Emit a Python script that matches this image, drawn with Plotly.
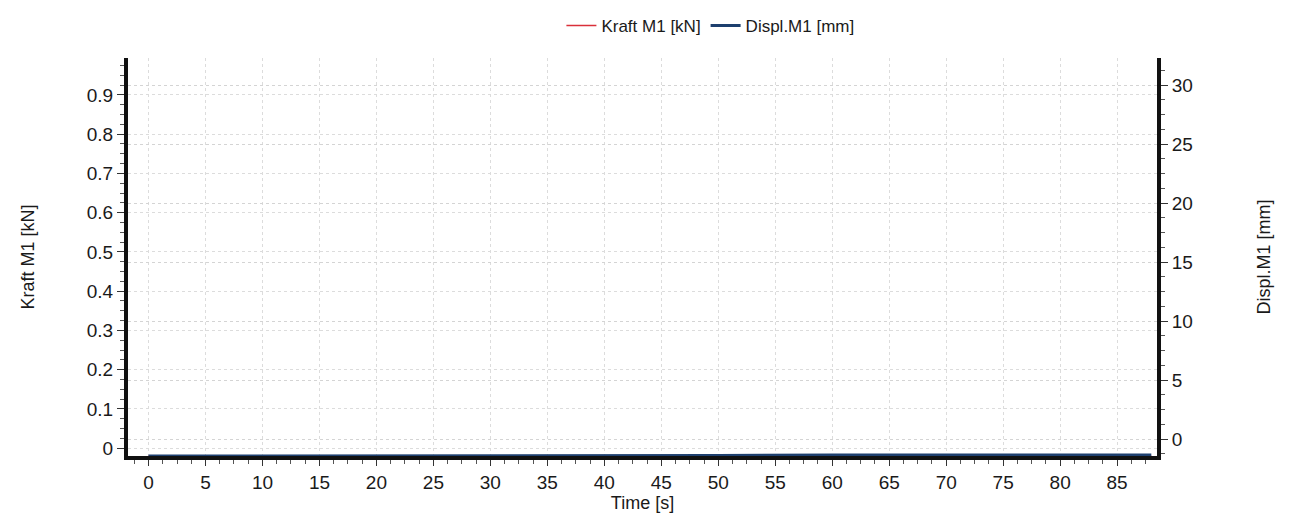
import plotly.graph_objects as go

time_s = [0, 10, 20, 30, 40, 50, 60, 70, 80, 88]
kraft_kn = [-0.02, -0.02, -0.02, -0.02, -0.02, -0.02, -0.02, -0.02, -0.02, -0.02]
displ_mm = [-1.45, -1.45, -1.45, -1.4, -1.4, -1.4, -1.35, -1.35, -1.35, -1.35]

x_ticks = list(range(0, 90, 5))
left_ticks = [0, 0.1, 0.2, 0.3, 0.4, 0.5, 0.6, 0.7, 0.8, 0.9]
left_labels = ["0", "0.1", "0.2", "0.3", "0.4", "0.5", "0.6", "0.7", "0.8", "0.9"]
right_ticks = [0, 5, 10, 15, 20, 25, 30]

font = "Liberation Sans, Arial, sans-serif"

fig = go.Figure()
fig.add_trace(go.Scatter(x=time_s, y=kraft_kn, mode="lines", name="Kraft M1 [kN]",
                         line=dict(color="#d9303a", width=1.5), yaxis="y"))
fig.add_trace(go.Scatter(x=time_s, y=displ_mm, mode="lines", name="Displ.M1 [mm]",
                         line=dict(color="#1d3f6e", width=3), yaxis="y2"))

fig.update_layout(
    width=1289, height=514,
    paper_bgcolor="white", plot_bgcolor="white",
    margin=dict(l=120, r=140, t=50, b=66),
    font=dict(family=font, size=19, color="#1a1a1a"),
    showlegend=True,
    legend=dict(orientation="h", x=0.566, xanchor="center", y=1.0, yanchor="top",
                yref="container", font=dict(size=17, color="#1a1a1a"),
                bgcolor="rgba(0,0,0,0)", tracegroupgap=0),
    xaxis=dict(
        range=[-1.8, 88.5], tickmode="array", tickvals=x_ticks,
        ticks="outside", ticklen=6, tickwidth=1, tickcolor="#333",
        showline=True, linewidth=4, linecolor="#111", mirror=False,
        showgrid=True, gridcolor="#dcdcdc", griddash="dot", gridwidth=1,
        zeroline=False,
        minor=dict(dtick=1.25, ticks="outside", ticklen=4, tickcolor="#555", showgrid=False),
        title=dict(text="Time [s]", font=dict(size=18), standoff=0),
    ),
    yaxis=dict(
        range=[-0.02, 0.994], tickmode="array", tickvals=left_ticks, ticktext=left_labels,
        ticks="outside", ticklen=7, tickwidth=1, tickcolor="#333",
        showline=True, linewidth=4, linecolor="#111",
        showgrid=True, gridcolor="#dcdcdc", griddash="dot", gridwidth=1,
        zeroline=False,
        minor=dict(dtick=0.025, ticks="outside", ticklen=4, tickcolor="#555", showgrid=False),
        title=dict(text="Kraft M1 [kN]", font=dict(size=18), standoff=48),
    ),
    yaxis2=dict(
        range=[-1.44, 32.29], overlaying="y", side="right", anchor="x",
        tickmode="array", tickvals=right_ticks,
        ticks="outside", ticklen=7, tickwidth=1, tickcolor="#333",
        showline=True, linewidth=4, linecolor="#111",
        showgrid=True, gridcolor="#d4d4d4", griddash="dot", gridwidth=1,
        zeroline=False,
        minor=dict(dtick=1.25, ticks="outside", ticklen=4, tickcolor="#555", showgrid=False),
        title=dict(text="Displ.M1 [mm]", font=dict(size=18), standoff=66),
    ),
)

fig.write_html("out.html")
